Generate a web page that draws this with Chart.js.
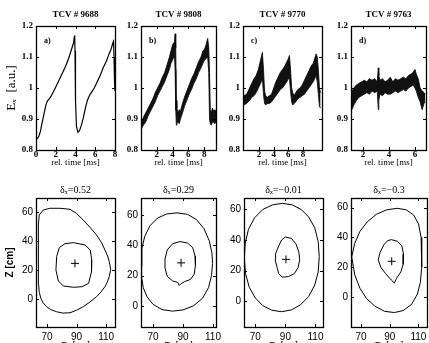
<!DOCTYPE html>
<html>
<head>
<meta charset="utf-8">
<script src="https://cdn.jsdelivr.net/npm/chart.js@4.4.0/dist/chart.umd.min.js"></script>
<style>
  html, body { margin: 0; padding: 0; background: #fff; overflow: hidden; width: 429px; height: 343px; position: relative; }
  canvas { position: absolute; }
</style>
</head>
<body>
<script>
// ---- top row: E_x signal vs rel. time ----
const shotTitles = ["TCV # 9688", "TCV # 9808", "TCV # 9770", "TCV # 9763"];
const panelLetters = ["a)", "b)", "c)", "d)"];
const yTicksTop = [0.8, 0.9, 1, 1.1, 1.2];

// a) clean sawtooth
const tA = [0, 0.15, 0.3, 0.45, 0.6, 0.8, 1.0, 1.15, 1.3, 1.5, 1.8, 2.1, 2.4, 2.7, 3.0, 3.3, 3.6, 3.8, 3.88, 3.92, 3.95, 4.0, 4.1, 4.25, 4.4, 4.6, 4.8, 5.0, 5.2, 5.4, 5.6, 5.9, 6.2, 6.5, 6.8, 7.1, 7.4, 7.6, 7.78, 7.85, 7.9, 7.95, 8.0];
const eA = [0.835, 0.838, 0.845, 0.86, 0.885, 0.915, 0.945, 0.958, 0.963, 0.972, 0.99, 1.01, 1.03, 1.05, 1.07, 1.095, 1.125, 1.145, 1.165, 1.17, 1.12, 0.96, 0.875, 0.857, 0.862, 0.88, 0.905, 0.935, 0.96, 0.975, 0.985, 1.0, 1.02, 1.04, 1.065, 1.085, 1.11, 1.125, 1.145, 1.15, 1.1, 1.02, 0.99];

// b) noisy sawtooth, upper / lower envelope of the noise band
const tB = [0, 0.3, 0.6, 0.9, 1.2, 1.5, 1.8, 2.1, 2.4, 2.7, 3.0, 3.3, 3.6, 3.8, 4.0, 4.15, 4.25, 4.32, 4.4, 4.48, 4.55, 4.7, 4.85, 5.0, 5.2, 5.5, 5.8, 6.1, 6.4, 6.7, 7.0, 7.3, 7.6, 7.85, 8.05, 8.25, 8.45, 8.58, 8.68, 8.78, 8.9, 9.05, 9.2, 9.35, 9.5];
const hiB = [0.89, 0.905, 0.92, 0.935, 0.95, 0.965, 0.985, 1.0, 1.015, 1.035, 1.05, 1.075, 1.1, 1.12, 1.14, 1.145, 1.15, 1.175, 1.13, 0.96, 0.935, 0.92, 0.93, 0.925, 0.945, 0.97, 0.99, 1.01, 1.03, 1.045, 1.065, 1.085, 1.1, 1.12, 1.125, 1.14, 1.16, 1.13, 1.05, 0.93, 0.92, 0.935, 0.925, 0.93, 0.925];
const loB = [0.865, 0.88, 0.89, 0.91, 0.925, 0.94, 0.955, 0.975, 0.99, 1.005, 1.02, 1.04, 1.06, 1.08, 1.09, 1.1, 1.095, 1.06, 0.93, 0.88, 0.885, 0.89, 0.885, 0.9, 0.915, 0.94, 0.96, 0.98, 0.995, 1.015, 1.03, 1.05, 1.065, 1.08, 1.09, 1.095, 1.1, 1.05, 0.9, 0.885, 0.88, 0.89, 0.89, 0.885, 0.89];

// c)
const tC = [-0.1, 0.3, 0.7, 1.0, 1.3, 1.6, 1.9, 2.1, 2.3, 2.45, 2.6, 2.75, 2.9, 3.1, 3.4, 3.7, 4.0, 4.3, 4.6, 4.9, 5.2, 5.5, 5.8, 6.0, 6.15, 6.3, 6.45, 6.6, 6.8, 7.0, 7.3, 7.6, 7.9, 8.2, 8.5, 8.8, 9.1, 9.4, 9.6, 9.8, 9.95, 10.1, 10.25, 10.4];
const hiC = [0.975, 0.98, 1.0, 1.015, 1.03, 1.04, 1.06, 1.08, 1.1, 1.115, 1.06, 0.99, 0.975, 0.97, 0.975, 0.98, 1.0, 1.02, 1.035, 1.05, 1.06, 1.07, 1.085, 1.095, 1.105, 1.06, 1.0, 0.985, 0.975, 0.985, 0.995, 1.0, 1.01, 1.025, 1.04, 1.055, 1.07, 1.08, 1.095, 1.11, 1.1, 1.06, 1.0, 0.985];
const loC = [0.945, 0.95, 0.96, 0.97, 0.975, 0.985, 1.0, 1.01, 1.02, 1.03, 0.98, 0.95, 0.945, 0.95, 0.95, 0.955, 0.965, 0.975, 0.985, 0.995, 1.0, 1.01, 1.02, 1.03, 1.03, 0.99, 0.955, 0.945, 0.95, 0.955, 0.965, 0.97, 0.975, 0.98, 0.99, 1.0, 1.01, 1.02, 1.03, 1.04, 1.02, 0.98, 0.94, 0.935];

// d)
const tD = [1.15, 1.3, 1.5, 1.7, 1.9, 2.1, 2.3, 2.5, 2.7, 2.9, 3.1, 3.18, 3.22, 3.3, 3.5, 3.7, 3.9, 4.1, 4.3, 4.5, 4.7, 4.9, 5.1, 5.3, 5.5, 5.7, 5.85, 6.0, 6.1, 6.25, 6.4, 6.55, 6.7, 6.8];
const hiD = [0.99, 1.0, 1.01, 1.015, 1.02, 1.025, 1.02, 1.03, 1.025, 1.03, 1.02, 1.065, 1.04, 1.025, 1.03, 1.02, 1.025, 1.035, 1.02, 1.03, 1.025, 1.03, 1.035, 1.03, 1.04, 1.045, 1.05, 1.06, 1.045, 1.03, 1.0, 0.99, 0.985, 0.98];
const loD = [0.93, 0.945, 0.96, 0.97, 0.975, 0.98, 0.985, 0.98, 0.99, 0.985, 0.99, 0.93, 0.96, 0.98, 0.975, 0.985, 0.98, 0.98, 0.985, 0.99, 0.985, 0.99, 0.995, 0.99, 1.0, 1.005, 1.01, 1.0, 0.99, 0.97, 0.955, 0.93, 0.95, 0.955];

const xTicksA = [0, 2, 4, 6, 8];
const xTicksB = [2, 4, 6, 8];
const xTicksC = [2, 4, 6, 8];
const xTicksD = [2, 4, 6];

// ---- bottom row: flux surfaces Z vs R ----
const deltaTitles = ["δₓ=0.52", "δₓ=0.29", "δₓ=−0.01", "δₓ=−0.3"];
const rTicks = [70, 90, 110];
const zTicks = [0, 20, 40, 60];

const outer1R = [64.1, 64.1, 64.7, 67.4, 71.9, 78.7, 85.5, 90.0, 94.5, 99.0, 103.5, 107.0, 109.2, 111.0, 112.1, 113.1, 112.1, 110.8, 109.2, 106.5, 103.5, 99.0, 94.5, 90.0, 85.5, 80.5, 76.5, 72.5, 69.7, 67.3, 65.8, 64.7, 64.3];
const outer1Z = [28.4, 51.4, 58.3, 61.7, 62.9, 62.9, 62.2, 59.3, 54.8, 49.8, 44.5, 39.0, 34.1, 30.0, 26.1, 20.8, 15.7, 12.0, 8.8, 5.2, 1.9, -1.8, -5.0, -7.4, -9.2, -9.4, -8.5, -7.0, -5.0, -2.3, 0.8, 5.0, 10.0];
const inner1R = [87.8, 95.8, 99.2, 100.3, 100.1, 98.1, 93.6, 87.8, 81.0, 77.6, 76.0, 76.5, 78.3, 82.1];
const inner1Z = [39.2, 37.6, 34.1, 27.2, 19.1, 11.1, 8.8, 8.4, 9.3, 12.8, 20.4, 29.6, 35.8, 38.5];

const outer2R = [62.4, 62.6, 64.5, 68, 73, 79, 86, 93, 99, 104, 107.5, 109.3, 109.7, 109, 107, 103, 97, 90, 83, 76, 70, 66, 63.5, 62.6];
const outer2Z = [26, 38, 46, 53, 58, 60.7, 61.5, 60.5, 57, 51, 43, 35, 28, 20, 12, 5, 0, -2.7, -3.5, -2.5, 1, 6, 12, 18];
const inner2R = [88, 93, 96.5, 98, 98.3, 97.5, 95, 91, 88.5, 87.5, 86.5, 83, 79.5, 78, 78, 79.5, 83];
const inner2Z = [42.5, 41.5, 38.5, 33, 27, 21, 17.5, 16, 14.5, 13.5, 15.5, 16.5, 19.5, 25, 31, 37, 41];

const outer3R = [62.7, 63.3, 65.5, 69.5, 75, 81.5, 88, 94.5, 100.5, 105.5, 109.5, 111.8, 112.5, 111.8, 109.5, 105.5, 100, 94, 87.5, 81, 75, 70, 66, 63.5];
const outer3Z = [28, 38, 47, 54.5, 60, 63, 64, 63, 60, 55, 48, 39, 29, 19, 10.5, 3, -2.5, -5.8, -7, -6, -3, 2, 9, 18];
const inner3R = [90, 94, 97, 99, 99.5, 98.5, 96, 92, 88, 85.5, 84.5, 83.2, 83.5, 85.5, 87.5];
const inner3Z = [42, 41, 37.5, 32, 27, 22, 18, 16, 15.7, 18, 22, 27, 31, 36, 40];

const outer4R = [63.5, 65.6, 69.2, 74.4, 80.7, 88, 95.2, 101.5, 106.7, 110.1, 111.9, 112.4, 112.2, 111.4, 109.3, 105.1, 99.4, 93.2, 86.4, 79.6, 73.9, 69.2, 65.6];
const outer4Z = [27, 36, 44, 50.5, 55.5, 58.5, 59.5, 58.5, 55, 49, 40, 30, 20, 10, 2, -5, -9, -10.3, -9.5, -6, -1, 6, 15];
const inner4R = [91.1, 95.2, 98.4, 99.6, 99.4, 97.8, 94.7, 93.2, 91.1, 86.9, 83.8, 82, 83.3, 85.9, 88.5];
const inner4Z = [38.5, 37.5, 34.5, 29, 22, 17, 12.5, 9.5, 11.5, 16, 20, 25, 30, 35, 37.8];

// magnetic axis (cross)
const axisR = [88.9, 88.7, 90.4, 91.4];
const axisZ = [24.9, 28.4, 27.3, 24.0];

const SERIF = "'Liberation Serif', 'DejaVu Serif', serif";
const SANS = "'Liberation Sans', Arial, sans-serif";

function pts(xs, ys) {
  return xs.map((x, i) => ({ x: x, y: ys[i] }));
}
function closed(xs, ys) {
  const p = pts(xs, ys);
  p.push({ x: xs[0], y: ys[0] });
  return p;
}

function lineSet(data, extra) {
  return Object.assign({
    data: data, borderColor: "#000", borderWidth: 1, pointRadius: 0,
    tension: 0, fill: false, showLine: true
  }, extra || {});
}

function bandSets(t, hi, lo) {
  return [
    lineSet(pts(t, hi), { fill: "+1", backgroundColor: "#111", borderWidth: 0.8 }),
    lineSet(pts(t, lo), { borderWidth: 0.8 })
  ];
}

// frame, inward tick marks, panel title and letter
const framePlugin = {
  id: "frame",
  afterDraw(chart, args, opts) {
    const { ctx, chartArea: a, scales } = chart;
    ctx.save();
    ctx.strokeStyle = "#000";
    ctx.lineWidth = 1.3;
    ctx.strokeRect(a.left + 0.5, a.top + 0.5, a.right - a.left, a.bottom - a.top);
    ctx.lineWidth = 1;
    ctx.beginPath();
    scales.x.ticks.forEach(t => {
      const px = Math.round(scales.x.getPixelForValue(t.value)) + 0.5;
      ctx.moveTo(px, a.bottom); ctx.lineTo(px, a.bottom - 3);
      ctx.moveTo(px, a.top); ctx.lineTo(px, a.top + 3);
    });
    scales.y.ticks.forEach(t => {
      const py = Math.round(scales.y.getPixelForValue(t.value)) + 0.5;
      ctx.moveTo(a.left, py); ctx.lineTo(a.left + 3, py);
      ctx.moveTo(a.right, py); ctx.lineTo(a.right - 3, py);
    });
    ctx.stroke();
    ctx.fillStyle = "#000";
    ctx.textAlign = "center";
    ctx.textBaseline = "middle";
    ctx.font = opts.titleFont;
    ctx.fillText(opts.title, (a.left + a.right) / 2, a.top - opts.titleGap);
    if (opts.letter) {
      ctx.textAlign = "left";
      ctx.font = "bold 8px " + SERIF;
      ctx.fillText(opts.letter, a.left + 8, a.top + 15);
    }
    ctx.restore();
  }
};

function makePanel(p) {
  const rightPad = 12;
  const cv = document.createElement("canvas");
  cv.width = p.yW + (p.r - p.l) + rightPad;
  cv.height = p.topPad + (p.b - p.t) + p.xH;
  cv.style.left = (p.l - p.yW) + "px";
  cv.style.top = (p.t - p.topPad) + "px";
  document.body.appendChild(cv);

  new Chart(cv.getContext("2d"), {
    type: "line",
    data: { datasets: p.datasets },
    options: {
      responsive: false,
      animation: false,
      devicePixelRatio: 1,
      layout: { padding: { left: 0, top: p.topPad, right: rightPad, bottom: 0 } },
      plugins: {
        legend: { display: false },
        tooltip: { enabled: false },
        title: { display: false },
        frame: { title: p.title, titleFont: p.titleFont, titleGap: p.titleGap, letter: p.letter }
      },
      scales: {
        x: {
          type: "linear", min: p.xMin, max: p.xMax,
          grid: { display: false, drawTicks: false }, border: { display: false },
          afterBuildTicks: s => { s.ticks = p.xTicks.map(v => ({ value: v })); },
          afterFit: s => { s.height = p.xH; s.paddingLeft = 0; s.paddingRight = 0; },
          ticks: {
            color: "#000", padding: p.xTickPad, maxRotation: 0, autoSkip: false,
            font: p.tickFont, callback: v => String(v)
          },
          title: {
            display: true, text: p.xTitle, color: "#000", font: p.xTitleFont,
            padding: { top: 0, bottom: p.xTitlePad }
          }
        },
        y: {
          type: "linear", min: p.yMin, max: p.yMax,
          grid: { display: false, drawTicks: false }, border: { display: false },
          afterBuildTicks: s => { s.ticks = p.yTicks.map(v => ({ value: v })); },
          afterFit: s => { s.width = p.yW; s.paddingTop = 0; s.paddingBottom = 0; },
          ticks: {
            color: "#000", padding: 3, autoSkip: false,
            font: p.tickFont, callback: v => String(v)
          },
          title: {
            display: !!p.yTitle, text: p.yTitle || "", color: "#000", font: p.yTitleFont,
            padding: { top: 4, bottom: 0 }
          }
        }
      }
    },
    plugins: [framePlugin]
  });
}

const topCommon = {
  t: 26, b: 150, topPad: 26, xH: 20, yMin: 0.8, yMax: 1.2, yTicks: yTicksTop,
  titleFont: "bold 9px " + SERIF, titleGap: 11,
  tickFont: { family: SERIF, size: 9, weight: "bold", lineHeight: 1.1 }, xTickPad: 0,
  xTitle: "rel. time [ms]", xTitleFont: { family: SERIF, size: 9, lineHeight: 1.2 }, xTitlePad: 1.5
};

const topPanels = [
  { l: 36, r: 115, yW: 36, xMin: 0, xMax: 8, xTicks: xTicksA,
    datasets: [lineSet(pts(tA, eA), { borderWidth: 1.2 })],
    yTitle: "Eₓ  [a.u.]", yTitleFont: { family: SERIF, size: 13, lineHeight: 1.2 } },
  { l: 141, r: 216, yW: 26, xMin: 0, xMax: 9.5, xTicks: xTicksB, datasets: bandSets(tB, hiB, loB) },
  { l: 243, r: 322, yW: 26, xMin: -0.2, xMax: 10.6, xTicks: xTicksC, datasets: bandSets(tC, hiC, loC) },
  { l: 351, r: 426, yW: 26, xMin: 1.08, xMax: 6.85, xTicks: xTicksD, datasets: bandSets(tD, hiD, loD) }
];
topPanels.forEach((p, i) => {
  makePanel(Object.assign({}, topCommon, p, { title: shotTitles[i], letter: panelLetters[i] }));
});

function surfaceSets(oR, oZ, iR, iZ, k) {
  return [
    lineSet(closed(oR, oZ)),
    lineSet(closed(iR, iZ)),
    { data: [{ x: axisR[k], y: axisZ[k] }], showLine: false, pointStyle: "cross",
      pointRadius: 4, borderColor: "#000", borderWidth: 1, backgroundColor: "#000" }
  ];
}

const botCommon = {
  t: 198, b: 327, topPad: 22, xH: 24, yTicks: zTicks, xTicks: rTicks,
  titleFont: "10px " + SERIF, titleGap: 8,
  tickFont: { family: SANS, size: 10, lineHeight: 1.2 }, xTickPad: 4,
  xTitle: "R  [cm]", xTitleFont: { family: SANS, size: 9, lineHeight: 1.2 }, xTitlePad: 0
};

const botPanels = [
  { l: 36, r: 115, yW: 36, xMin: 62.5, xMax: 116, yMin: -19, yMax: 70,
    datasets: surfaceSets(outer1R, outer1Z, inner1R, inner1Z, 0),
    yTitle: "Z [cm]", yTitleFont: { family: SANS, size: 10, weight: "bold", lineHeight: 1.2 } },
  { l: 141, r: 216, yW: 26, xMin: 62, xMax: 112, yMin: -14, yMax: 71.3,
    datasets: surfaceSets(outer2R, outer2Z, inner2R, inner2Z, 1) },
  { l: 244, r: 323, yW: 26, xMin: 62.5, xMax: 115, yMin: -17, yMax: 67.5,
    datasets: surfaceSets(outer3R, outer3Z, inner3R, inner3Z, 2) },
  { l: 351, r: 427, yW: 26, xMin: 63, xMax: 116, yMin: -20, yMax: 66.4,
    datasets: surfaceSets(outer4R, outer4Z, inner4R, inner4Z, 3) }
];
botPanels.forEach((p, i) => {
  makePanel(Object.assign({}, botCommon, p, { title: deltaTitles[i] }));
});
</script>
</body>
</html>
